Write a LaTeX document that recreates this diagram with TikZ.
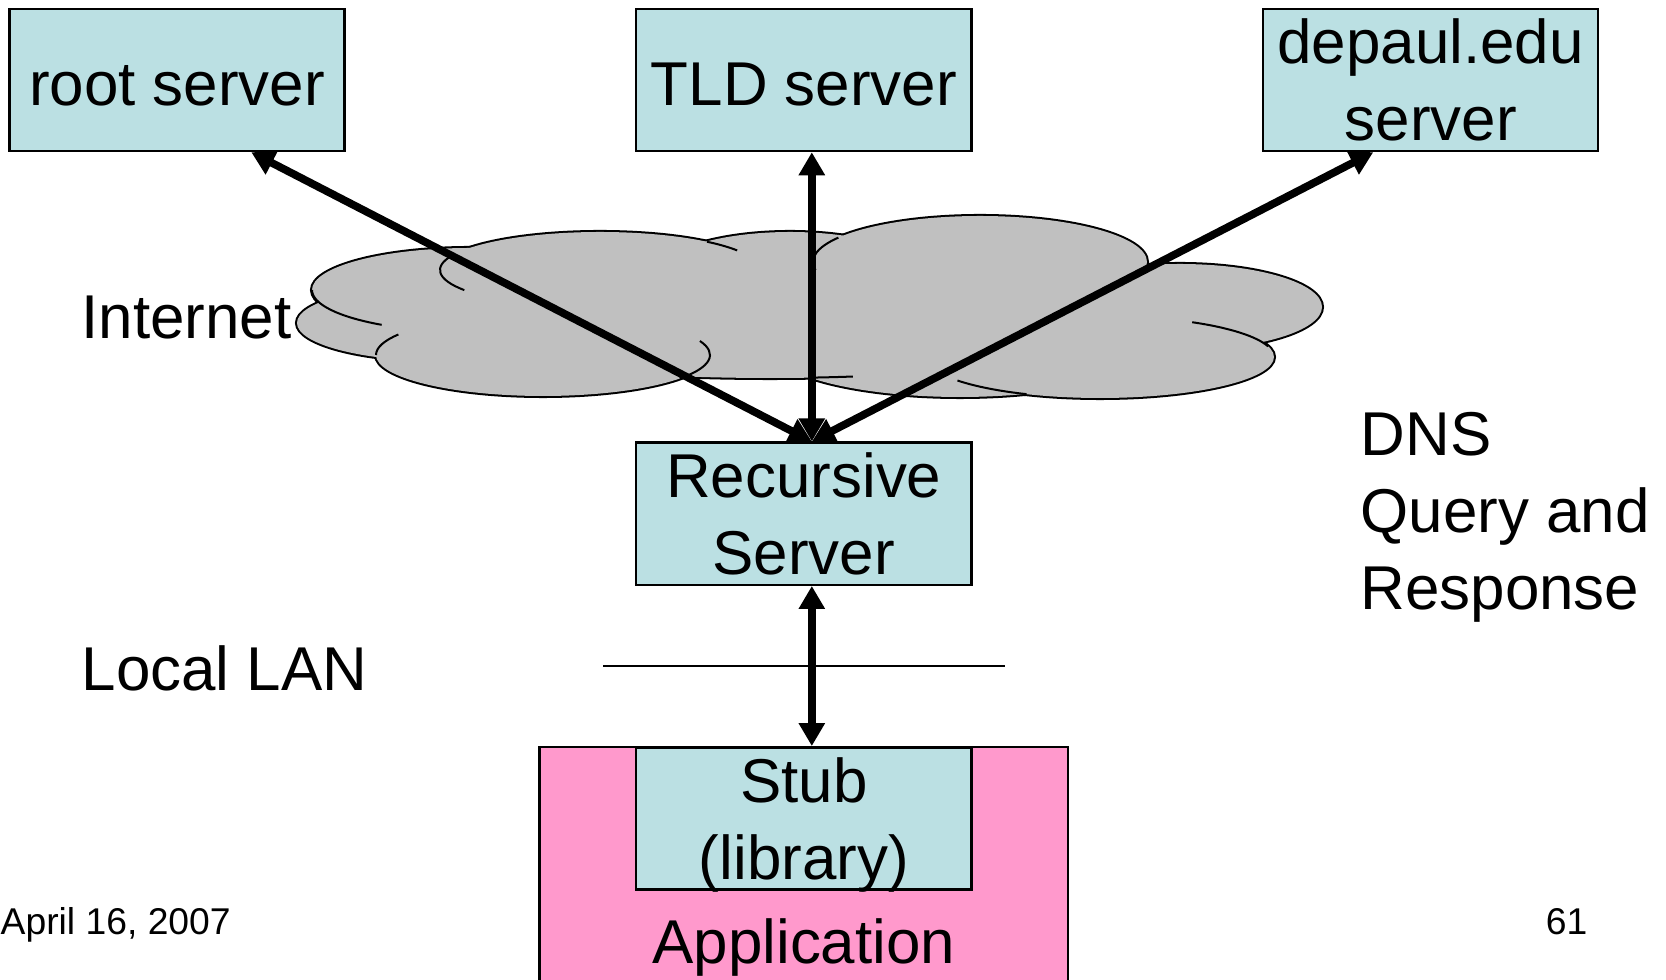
\documentclass[tikz,border=0pt]{standalone}
\usepackage{fontspec}
\setmainfont{Liberation Sans}
\usepackage{xcolor}
\usetikzlibrary{arrows.meta, positioning, calc}

\definecolor{srvblue}{HTML}{BBE0E3}
\definecolor{apppink}{HTML}{FF99CC}
\definecolor{cloudgray}{HTML}{C0C0C0}

\newcommand{\slidetxt}{\fontsize{17.6pt}{21.9pt}\selectfont}
\newcommand{\foottxt}{\fontsize{10.6pt}{12.7pt}\selectfont}

\begin{document}
\begin{tikzpicture}[
    x=0.01cm, y=-0.01cm,
    node distance = 2.89cm,
    >={Triangle[length=0.23cm, width=0.25cm]},
    server/.style   = {rectangle, draw, fill=srvblue, line width=0.7pt,
                       minimum width=3.35cm, minimum height=1.42cm,
                       inner sep=0pt, align=center, text depth=0pt,
                       font=\slidetxt},
    oneline/.style  = {server, text height=0.51cm},
    appbox/.style   = {rectangle, draw, fill=apppink, line width=0.7pt,
                       minimum width=5.28cm, minimum height=2.45cm,
                       inner sep=0pt},
    plain/.style    = {inner sep=0pt, align=left, font=\slidetxt},
    query/.style    = {<->, line width=2.2pt},
    lan/.style      = {line width=0.55pt},
    puff/.style     = {draw=black, line width=1.15pt},
    puffline/.style = {draw=black, line width=0.57pt}
  ]
  \useasboundingbox (0,0) rectangle (1666,980);

  % ── Internet cloud ──────────────────────────────────────────
  % double-width outlines first, the fill on top keeps the outer edge
  \foreach \cx/\cy/\rx/\ry in {470/290/158/42, 440/323/143/38, 543/355/167/41,
      600/270/160/38, 790/280/140/48, 980/262/167/46, 1180/307/142/43,
      1100/357/174/41, 960/347/190/50, 770/335/320/43}
    \draw[puff] (\cx,\cy) ellipse[x radius=\rx, y radius=\ry];
  \foreach \cx/\cy/\rx/\ry in {470/290/158/42, 440/323/143/38, 543/355/167/41,
      600/270/160/38, 790/280/140/48, 980/262/167/46, 1180/307/142/43,
      1100/357/174/41, 960/347/190/50, 770/335/320/43}
    \fill[cloudgray] (\cx,\cy) ellipse[x radius=\rx, y radius=\ry];

  % inner folds
  \draw[puffline] (600,270) ++(148:160 and 38) arc[start angle=148, end angle=203, x radius=160, y radius=38];
  \draw[puffline] (470,290) ++(124:158 and 42) arc[start angle=124, end angle=180, x radius=158, y radius=42];
  \draw[puffline] (543,355) ++(180:167 and 41) arc[start angle=180, end angle=210, x radius=167, y radius=41];
  \draw[puffline] (543,355) ++(-20:167 and 41) arc[start angle=-20, end angle=35, x radius=167, y radius=41];
  \draw[puffline] (600,270) ++(-48:160 and 38) arc[start angle=-48, end angle=-31, x radius=160, y radius=38];
  \draw[puffline] (980,262) ++(170:167 and 46) arc[start angle=170, end angle=212, x radius=167, y radius=46];
  \draw[puffline] (1100,357) ++(-58:174 and 41) arc[start angle=-58, end angle=-15, x radius=174, y radius=41];
  \draw[puffline] (1100,357) ++(115:174 and 41) arc[start angle=115, end angle=145, x radius=174, y radius=41];
  \draw[puffline] (770,335) ++(75:320 and 43) arc[start angle=75, end angle=83, x radius=320, y radius=43];

  % ── Servers ─────────────────────────────────────────────────
  \node[oneline] (root) at (177,80)     {root server};
  \node[oneline] (tld)  [right=of root] {TLD server};
  \node[server]  (edu)  [right=of tld]  {depaul.edu\\server};
  \node[server]  (rec)  [below=of tld]  {Recursive\\Server};

  % ── Host: application with stub resolver ────────────────────
  \node[appbox, anchor=north] (app) at ($(rec.south)+(0,160)$) {};
  \node[server] (stub) [below=1.6cm of rec] {Stub\\(library)};
  \node[plain, anchor=base] (apptxt) at ($(stub.south)+(0,73)$) {Application};

  % LAN boundary
  \draw[lan] ($(rec.south west)+(-32,80)$) -- ($(rec.south east)+(32,80)$);

  % ── Query / response paths ──────────────────────────────────
  \coordinate (hub) at ($(rec.north)+(8,0)$);
  \draw[query] ($(root.south west)!0.72!(root.south east)$) -- (hub);
  \draw[query] ($(tld.south)+(8,0)$) -- (hub);
  \draw[query] ($(edu.south west)!0.33!(edu.south east)$) -- (hub);
  \draw[query] ($(rec.south)+(8,0)$) -- ($(stub.north)+(8,0)$);

  % ── Labels ──────────────────────────────────────────────────
  \node[plain, anchor=base west] (inet)   at (81,339)   {Internet};
  \node[plain, anchor=base west] (lanlbl) at (81,691)   {Local LAN};
  % base anchor sits on the last line
  \node[plain, anchor=base west] (dnsq)   at (1360,610) {DNS\\Query and\\Response};
  \node[plain, anchor=base west, font=\foottxt] (date) at (0,935)    {April 16, 2007};
  \node[plain, anchor=base east, font=\foottxt] (pgno) at (1588,935) {61};

\end{tikzpicture}
\end{document}
